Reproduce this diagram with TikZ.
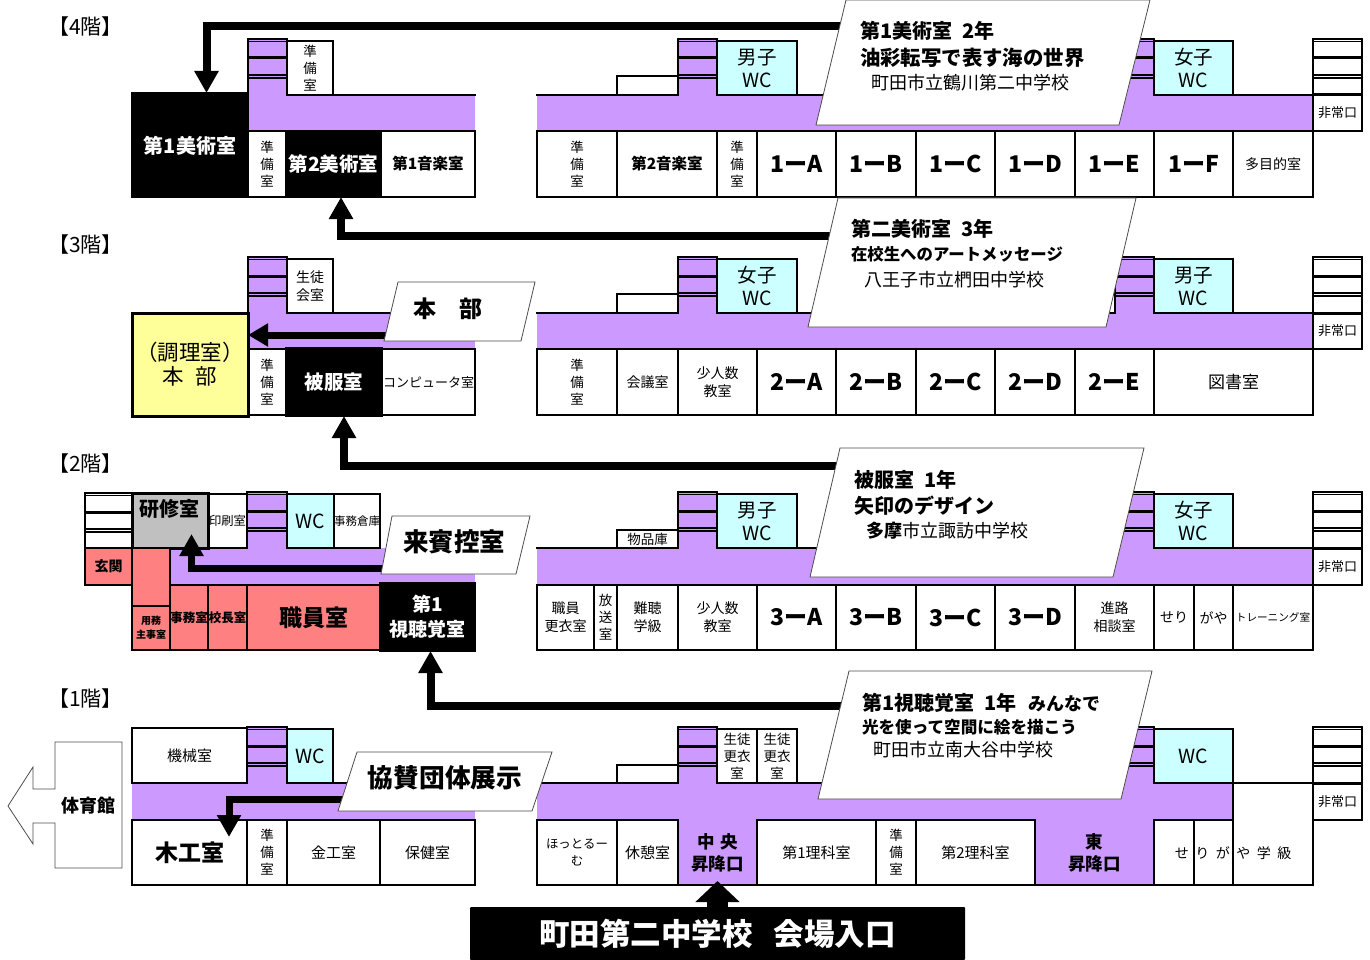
\documentclass[tikz,border=0pt]{standalone}
\usepackage{fontspec}
\setmainfont{Noto Sans CJK JP}
\usetikzlibrary{arrows.meta}
\definecolor{hallcol}{HTML}{CC99FF}
\definecolor{wccol}{HTML}{CCFFFF}
\definecolor{officecol}{HTML}{FF8080}
\definecolor{honbucol}{HTML}{FFFF99}
\definecolor{kenshucol}{HTML}{C0C0C0}
\tikzset{
  wall/.style={line width=2pt,line cap=rect},
  room/.style={draw,line width=2pt,inner sep=0pt,outer sep=0pt,align=center},
  rt/.style 2 args={font=\fontsize{#1}{#2}\selectfont},
  bt/.style 2 args={font=\fontsize{#1}{#2}\selectfont\bfseries},
  small/.style={rt={14}{18}},
  tall/.style={rt={13.5}{17}},
  classroom/.style={bt={23}{26}},
  dark/.style={fill=black,text=white},
  wc/.style={fill=wccol},
  office/.style={fill=officecol},
  hallroom/.style={fill=hallcol},
  hall/.style={fill=hallcol},
  bigarrow/.style={line width=8pt,-{Triangle[length=22pt,width=23pt]}},
  tag/.style={draw=black!70,line width=.8pt,fill=white},
  note/.style={anchor=west,inner sep=0pt,outer sep=0pt},
  floorname/.style={inner sep=0pt,rt={21}{24}},
}
\newcommand{\room}[7][]{\node[room,minimum width={(#5-#3)*1pt},minimum height={(#6-#4)*1pt},#1] (#2) at ({(#3+#5)/2},{(#4+#6)/2}) {#7};}
\newcommand{\stairlines}[3]{
  \draw[line width=1.2pt] (#1,#3) -- (#2,#3) (#1,{#3+2.5}) -- (#2,{#3+2.5});
  \draw[line width=3pt] (#1,{#3+19}) -- (#2,{#3+19});
  \draw[line width=1.2pt] (#1,{#3+36}) -- (#2,{#3+36}) (#1,{#3+39}) -- (#2,{#3+39});
}
\newcommand{\stairs}[3]{
  \fill[hall] (#1,#3) rectangle (#2,{#3+58});
  \stairlines{#1}{#2}{#3}
  \draw[wall] (#1,#3) -- (#1,{#3+56}) (#2,#3) -- (#2,{#3+56});
}
\newcommand{\exitstairs}[3]{
  \stairlines{#1}{#2}{#3}
  \draw[line width=3pt] (#1,{#3+56}) -- (#2,{#3+56});
  \draw[wall] (#1,#3) -- (#1,{#3+56}) (#2,#3) -- (#2,{#3+56});
}
\begin{document}
\begin{tikzpicture}[x=1pt,y=-1pt]
  \useasboundingbox (0,0) rectangle (1370,960);

  \node[floorname] (label4) at (85.5,27) {【4階】};
  \node[floorname] (label3) at (85.5,245) {【3階】};
  \node[floorname] (label2) at (85.5,464) {【2階】};
  \node[floorname] (label1) at (85.5,699) {【1階】};

  % 4F
  \fill[hall] (248,95) rectangle (475,131);
  \fill[hall] (537,95) rectangle (1313,131);
  \stairs{248}{287}{39}
  \stairs{678}{717}{39}
  \stairs{1115}{1154}{39}
  \exitstairs{1313}{1362}{39}
  \draw[wall] (287,95) -- (475,95) (537,95) -- (678,95) (717,95) -- (1115,95) (1154,95) -- (1313,95);
  \room[tall]{prep4a}{287}{41}{333}{95}{準\\備\\室}
  \room{store4}{617}{76}{678}{95}{}
  \room[wc,rt={19.5}{23}]{men4}{717}{41}{797}{95}{男子\\WC}
  \room[wc,rt={19.5}{23}]{women4}{1154}{41}{1233}{95}{女子\\WC}
  \room[dark]{art1}{132}{93}{248}{197}{}
  \node[bt={20}{24},text=white] (art1name) at (190,146) {第1美術室};
  \room[tall]{prep4b}{248}{131}{286}{197}{準\\備\\室}
  \room[dark,bt={19.5}{24}]{art2}{286}{131}{381}{197}{第2美術室}
  \room[bt={15.5}{18}]{music1}{381}{131}{475}{197}{第1音楽室}
  \room[tall]{prep4c}{537}{131}{617}{197}{準\\備\\室}
  \room[bt={15.5}{18}]{music2}{617}{131}{717}{197}{第2音楽室}
  \room[tall]{prep4d}{717}{131}{757}{197}{準\\備\\室}
  \room[classroom]{c1a}{757}{131}{836}{197}{1ーA}
  \room[classroom]{c1b}{836}{131}{916}{197}{1ーB}
  \room[classroom]{c1c}{916}{131}{995}{197}{1ーC}
  \room[classroom]{c1d}{995}{131}{1075}{197}{1ーD}
  \room[classroom]{c1e}{1075}{131}{1154}{197}{1ーE}
  \room[classroom]{c1f}{1154}{131}{1233}{197}{1ーF}
  \room[small]{multi}{1233}{131}{1313}{197}{多目的室}
  \room[rt={13}{16}]{exit4}{1313}{95}{1362}{131}{非常口}

  % 3F
  \fill[hall] (248,313) rectangle (475,349);
  \fill[hall] (537,313) rectangle (1313,349);
  \stairs{248}{287}{257}
  \stairs{678}{717}{257}
  \stairs{1115}{1154}{257}
  \exitstairs{1313}{1362}{257}
  \draw[wall] (287,313) -- (475,313) (537,313) -- (678,313) (717,313) -- (1115,313) (1154,313) -- (1313,313);
  \room[small]{council}{287}{259}{333}{313}{生徒\\会室}
  \room{store3}{617}{294}{678}{313}{}
  \room[wc,rt={19.5}{23}]{women3}{717}{259}{797}{313}{女子\\WC}
  \room[wc,rt={19.5}{23}]{men3}{1154}{259}{1233}{313}{男子\\WC}
  \room[fill=honbucol,line width=3pt,rt={21.5}{24}]{kitchen}{132}{313}{248}{416}{（調理室）\\本\hspace{.55em}部}
  \room[tall]{prep3a}{248}{349}{286}{415}{準\\備\\室}
  \room[small,rt={13}{16}]{computer}{382}{349}{475}{415}{コンピュータ室}
  \room[dark,bt={19.5}{24}]{hifuku}{286}{348}{382}{416}{被服室}
  \room[tall]{prep3b}{537}{349}{617}{415}{準\\備\\室}
  \room[small]{meeting}{617}{349}{678}{415}{会議室}
  \room[small]{fewa}{678}{349}{757}{415}{少人数\\教室}
  \room[classroom]{c2a}{757}{349}{836}{415}{2ーA}
  \room[classroom]{c2b}{836}{349}{916}{415}{2ーB}
  \room[classroom]{c2c}{916}{349}{995}{415}{2ーC}
  \room[classroom]{c2d}{995}{349}{1075}{415}{2ーD}
  \room[classroom]{c2e}{1075}{349}{1154}{415}{2ーE}
  \room[rt={17}{20}]{library}{1154}{349}{1313}{415}{図書室}
  \room[rt={13}{16}]{exit3}{1313}{313}{1362}{349}{非常口}

  % 2F
  \fill[hall] (170,548) rectangle (475,585);
  \fill[hall] (537,548) rectangle (1313,585);
  \exitstairs{85}{132}{493}
  \stairs{247}{287}{492}
  \stairs{678}{717}{492}
  \stairs{1115}{1154}{492}
  \exitstairs{1313}{1362}{492}
  \draw[wall] (537,548) -- (678,548) (717,548) -- (1115,548) (1154,548) -- (1313,548);
  \room[fill=kenshucol,line width=3pt]{kenshu}{132}{493}{208}{548}{}
  \node[bt={20}{24}] (kenshuname) at (169,509) {研修室};
  \room[rt={12.3}{15}]{print}{208}{494}{247}{548}{印刷室}
  \room[wc,rt={19.5}{23}]{wc2}{287}{494}{334}{548}{WC}
  \room[rt={11.5}{14}]{oldstore}{334}{494}{380}{548}{事務倉庫}
  \room[rt={13.5}{16}]{goods}{617}{530}{678}{548}{物品庫}
  \room[wc,rt={19.5}{23}]{men2}{717}{494}{797}{548}{男子\\WC}
  \room[wc,rt={19.5}{23}]{women2}{1154}{494}{1233}{548}{女子\\WC}
  \room[office,bt={14}{17}]{hall2}{85}{548}{132}{585}{玄関}
  \room[office]{lobby}{132}{548}{170}{606}{}
  \room[office,bt={10}{14}]{janitor}{132}{606}{170}{650}{用務\\主事室}
  \room[office,bt={12.5}{15}]{jimu}{170}{585}{208}{650}{事務室}
  \room[office,bt={12.5}{15}]{kocho}{208}{585}{247}{650}{校長室}
  \room[office,bt={23}{27}]{staff}{247}{585}{380}{650}{職員室}
  \room[dark,bt={19}{25}]{av}{380}{583}{475}{651}{第1\\視聴覚室}
  \room[small]{locker}{537}{585}{594}{650}{職員\\更衣室}
  \room[tall]{broadcast}{594}{585}{617}{650}{放\\送\\室}
  \room[small]{hearing}{617}{585}{678}{650}{難聴\\学級}
  \room[small]{fewb}{678}{585}{757}{650}{少人数\\教室}
  \room[classroom]{c3a}{757}{585}{836}{650}{3ーA}
  \room[classroom]{c3b}{836}{585}{916}{650}{3ーB}
  \room[classroom]{c3c}{916}{585}{995}{650}{3ーC}
  \room[classroom]{c3d}{995}{585}{1075}{650}{3ーD}
  \room[small]{career}{1075}{585}{1154}{650}{進路\\相談室}
  \room[small]{seri}{1154}{585}{1194}{650}{せり}
  \room[small]{gaya}{1194}{585}{1233}{650}{がや}
  \room[rt={10.6}{13}]{training}{1233}{585}{1313}{650}{トレーニング室}
  \room[rt={13}{16}]{exit2}{1313}{548}{1362}{585}{非常口}

  % 1F
  \draw[draw=black!70,line width=.8pt] (8,806) -- (33,767) -- (33,789) -- (55,789) -- (55,742) -- (122,742) -- (122,868) -- (55,868) -- (55,823) -- (33,823) -- (33,844) -- cycle;
  \node[bt={18}{22}] (gym) at (88,806) {体育館};
  \fill[hall] (132,783) rectangle (475,820);
  \fill[hall] (537,783) rectangle (1233,820);
  \stairs{247}{287}{727}
  \stairs{678}{717}{727}
  \stairs{1115}{1154}{727}
  \exitstairs{1313}{1362}{727}
  \draw[wall] (132,783) -- (247,783) (287,783) -- (475,783) (537,783) -- (678,783) (717,783) -- (1115,783) (1154,783) -- (1313,783);
  \room[rt={15}{18}]{machine}{132}{728}{247}{783}{機械室}
  \room[wc,rt={19.5}{23}]{wc1a}{287}{729}{333}{783}{WC}
  \room{store1}{617}{765}{678}{783}{}
  \room[tall]{dressa}{717}{729}{757}{783}{生徒\\更衣\\室}
  \room[tall]{dressb}{757}{729}{797}{783}{生徒\\更衣\\室}
  \room[wc,rt={19.5}{23}]{wc1b}{1154}{729}{1233}{783}{WC}
  \room[bt={23}{27}]{wood}{132}{820}{247}{885}{木工室}
  \room[tall]{prep1a}{247}{820}{287}{885}{準\\備\\室}
  \room[rt={15}{18}]{metal}{287}{820}{380}{885}{金工室}
  \room[rt={15}{18}]{nurse}{380}{820}{475}{885}{保健室}
  \room[rt={12.4}{17}]{hotroom}{537}{820}{617}{885}{ほっとるー\\む}
  \room[rt={15}{18}]{rest}{617}{820}{678}{885}{休憩室}
  \room[hallroom,bt={17.5}{22}]{chuo}{678}{820}{757}{885}{中\hspace{.3em}央\\昇降口}
  \room[rt={15}{18}]{science1}{757}{820}{876}{885}{第1理科室}
  \room[tall]{prep1b}{876}{820}{916}{885}{準\\備\\室}
  \room[rt={15}{18}]{science2}{916}{820}{1035}{885}{第2理科室}
  \room[hallroom,bt={17.5}{22}]{higashi}{1035}{820}{1154}{885}{東\\昇降口}
  \fill[hall] (679,815) rectangle (756,822);
  \fill[hall] (1036,815) rectangle (1153,822);
  \room{cell1}{1154}{820}{1194}{885}{}
  \room{cell2}{1194}{820}{1233}{885}{}
  \room{cell3}{1233}{783}{1313}{885}{}
  \node[rt={14}{18}] (serigaya) at (1233,853) {せ\hspace{6.5pt}り\hspace{6.5pt}が\hspace{6.5pt}や\hspace{6.5pt}学\hspace{6.5pt}級};
  \room[rt={13}{16}]{exit1}{1313}{783}{1362}{820}{非常口}
  \node[fill=black,text=white,bt={30.5}{34},minimum width=495pt,minimum height=53pt,inner sep=0pt,outer sep=0pt,rounded corners=1pt] (entrance) at (717.5,933.5) {町田第二中学校\hspace{.7em}会場入口};

  % arrows
  \coordinate (art1from) at (900,26.5);
  \coordinate (art2from) at (900,236);
  \coordinate (honbufrom) at (450,335);
  \coordinate (hifukufrom) at (900,466);
  \coordinate (guestfrom) at (450,568);
  \coordinate (avfrom) at (900,706);
  \coordinate (sponsorfrom) at (450,799);
  \draw[bigarrow] (art1from) -| ([xshift=16.5pt]art1.north);
  \draw[bigarrow] (art2from) -| ([xshift=7.5pt]art2.south);
  \draw[bigarrow,line width=7pt,-{Triangle[length=20pt,width=22pt]}] (honbufrom) -- ([yshift=29.5pt]kitchen.east);
  \draw[bigarrow] (hifukufrom) -| ([xshift=10pt]hifuku.south);
  \draw[bigarrow,line width=7pt] (guestfrom) -| ([xshift=21.5pt,yshift=14pt]kenshu.south);
  \draw[bigarrow] (avfrom) -| ([xshift=3pt]av.south);
  \draw[bigarrow,line width=7pt] (sponsorfrom) -| ([xshift=39.5pt,yshift=-17pt]wood.north);
  \draw[line width=21pt,-{Triangle[length=21pt,width=43pt]}] (entrance.north) -- ([yshift=4pt]chuo.south);

  % callouts
  \draw[tag] (846,0) -- (1150,0) -- (1119,125) -- (816,125) -- cycle;
  \node[note,bt={20}{24}] (art1a) at (860,31) {第1美術室\hspace{.5em}2年};
  \node[note,bt={20.4}{24}] (art1b) at (860,58) {油彩転写で表す海の世界};
  \node[note,rt={18}{22}] (art1c) at (871,83) {町田市立鶴川第二中学校};

  \draw[tag] (838,198) -- (1136,198) -- (1106,327) -- (808,327) -- cycle;
  \node[note,bt={20}{24}] (art2a) at (851,229) {第二美術室\hspace{.5em}3年};
  \node[note,bt={16.4}{20}] (art2b) at (851,254) {在校生へのアートメッセージ};
  \node[note,rt={18}{22}] (art2c) at (864,280) {八王子市立椚田中学校};

  \draw[tag] (840,448) -- (1144,448) -- (1113,577) -- (810,577) -- cycle;
  \node[note,bt={20}{24}] (hifukua) at (854,480) {被服室\hspace{.5em}1年};
  \node[note,bt={20}{24}] (hifukub) at (854,506) {矢印のデザイン};
  \node[note,rt={18}{22}] (hifukuc) at (866,531) {\textbf{多摩}市立諏訪中学校};

  \draw[tag] (849,671) -- (1152,671) -- (1121,799) -- (818,799) -- cycle;
  \node[note,bt={20}{24}] (ava) at (862,703) {第1視聴覚室\hspace{.5em}1年\hspace{.6em}{\fontsize{18}{20}\selectfont みんなで}};
  \node[note,bt={16.6}{20}] (avb) at (862,727) {光を使って空間に絵を描こう};
  \node[note,rt={18}{22}] (avc) at (873,750) {町田市立南大谷中学校};

  \draw[tag] (398,282) -- (535,282) -- (521,341) -- (384,341) -- cycle;
  \node[bt={23}{27}] (honbu) at (448,309) {本\hspace{1em}部};

  \draw[tag] (392,516) -- (530,516) -- (516,574) -- (381,574) -- cycle;
  \node[bt={25.5}{30}] (guest) at (454,542) {来賓控室};

  \draw[tag] (357,752) -- (552,752) -- (532,811) -- (338,811) -- cycle;
  \node[bt={25.7}{30}] (sponsor) at (445,778) {協賛団体展示};
\end{tikzpicture}
\end{document}
